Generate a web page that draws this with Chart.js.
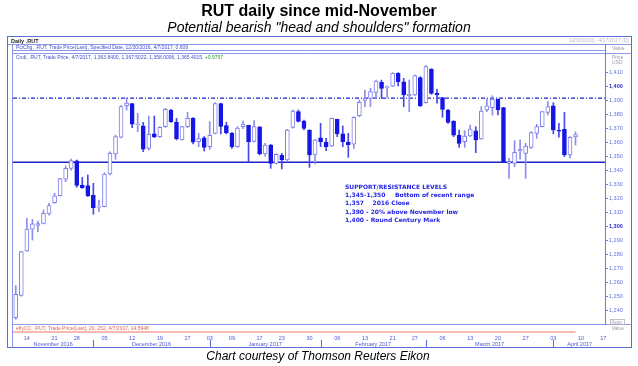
<!DOCTYPE html>
<html>
<head>
<meta charset="utf-8">
<script src="https://cdn.jsdelivr.net/npm/chart.js@4.4.0/dist/chart.umd.min.js"></script>
<style>
  html, body { margin: 0; padding: 0; background: #fff; }
  #wrap { width: 638px; height: 366px; }
</style>
</head>
<body>
<div id="wrap"><canvas id="rutChart" width="638" height="366"></canvas></div>
<script>
// trading days on the x axis (last five are empty future days)
const tradingDays = [
  '2016-11-10','2016-11-11','2016-11-14','2016-11-15','2016-11-16','2016-11-17','2016-11-18','2016-11-21','2016-11-22','2016-11-23','2016-11-25','2016-11-28','2016-11-29','2016-11-30',
  '2016-12-01','2016-12-02','2016-12-05','2016-12-06','2016-12-07','2016-12-08','2016-12-09','2016-12-12','2016-12-13','2016-12-14','2016-12-15','2016-12-16','2016-12-19','2016-12-20','2016-12-21','2016-12-22','2016-12-23','2016-12-27','2016-12-28','2016-12-29','2016-12-30',
  '2017-01-03','2017-01-04','2017-01-05','2017-01-06','2017-01-09','2017-01-10','2017-01-11','2017-01-12','2017-01-13','2017-01-17','2017-01-18','2017-01-19','2017-01-20','2017-01-23','2017-01-24','2017-01-25','2017-01-26','2017-01-27','2017-01-30','2017-01-31',
  '2017-02-01','2017-02-02','2017-02-03','2017-02-06','2017-02-07','2017-02-08','2017-02-09','2017-02-10','2017-02-13','2017-02-14','2017-02-15','2017-02-16','2017-02-17','2017-02-21','2017-02-22','2017-02-23','2017-02-24','2017-02-27','2017-02-28',
  '2017-03-01','2017-03-02','2017-03-03','2017-03-06','2017-03-07','2017-03-08','2017-03-09','2017-03-10','2017-03-13','2017-03-14','2017-03-15','2017-03-16','2017-03-17','2017-03-20','2017-03-21','2017-03-22','2017-03-23','2017-03-24','2017-03-27','2017-03-28','2017-03-29','2017-03-30','2017-03-31',
  '2017-04-03','2017-04-04','2017-04-05','2017-04-06','2017-04-07','2017-04-10','2017-04-11','2017-04-12','2017-04-13','2017-04-17'
];

const opens = [
  1234.7, 1250.6, 1282.3, 1297.8, 1300.6, 1302.0, 1308.7, 1316.8, 1321.8, 1333.5,
  1341.3, 1346.6, 1329.4, 1329.0, 1322.1, 1313.5, 1314.0, 1337.3, 1351.6, 1363.5,
  1386.1, 1387.5, 1372.6, 1371.6, 1355.6, 1365.9, 1363.9, 1371.1, 1383.0, 1374.4,
  1361.6, 1371.1, 1377.0, 1360.4, 1363.2, 1356.8, 1366.3, 1387.5, 1371.8, 1366.3,
  1356.8, 1371.1, 1372.0, 1360.6, 1370.9, 1351.6, 1358.0, 1344.9, 1350.6, 1347.3,
  1370.6, 1381.8, 1375.1, 1368.7, 1350.9, 1363.2, 1360.1, 1357.3, 1376.3, 1365.9,
  1360.1, 1358.5, 1379.0, 1389.8, 1391.3, 1395.6, 1402.8, 1399.0, 1400.1, 1409.2,
  1403.2, 1393.2, 1393.7, 1406.1, 1388.2, 1412.3, 1394.9, 1391.8, 1383.0, 1375.1,
  1365.1, 1360.4, 1364.4, 1368.2, 1362.3, 1383.0, 1384.7, 1390.6, 1384.7, 1344.9,
  1344.9, 1353.9, 1352.0, 1356.3, 1366.3, 1371.1, 1381.3, 1385.9, 1368.5, 1369.2,
  1350.9, 1363.84
];
const highs = [
  1257.5, 1282.0, 1305.6, 1304.9, 1303.7, 1311.6, 1316.3, 1323.5, 1334.2, 1343.0,
  1348.0, 1347.3, 1334.9, 1336.6, 1330.6, 1318.7, 1338.2, 1353.2, 1365.1, 1386.1,
  1391.8, 1387.8, 1380.6, 1374.2, 1378.7, 1378.7, 1371.1, 1384.2, 1383.5, 1377.0,
  1371.3, 1381.3, 1377.5, 1366.3, 1364.0, 1374.7, 1388.2, 1387.8, 1374.2, 1367.0,
  1371.1, 1375.1, 1372.2, 1375.4, 1371.1, 1359.2, 1358.5, 1351.8, 1352.0, 1369.2,
  1383.0, 1383.0, 1375.8, 1368.9, 1362.0, 1373.5, 1362.8, 1377.2, 1376.5, 1371.6,
  1366.3, 1378.2, 1390.1, 1397.3, 1398.5, 1404.4, 1404.4, 1400.1, 1409.7, 1409.7,
  1405.6, 1404.4, 1408.0, 1406.8, 1414.7, 1412.5, 1397.8, 1392.0, 1383.5, 1375.3,
  1368.7, 1368.2, 1372.3, 1371.1, 1385.4, 1390.9, 1393.2, 1390.8, 1384.9, 1348.5,
  1361.1, 1361.6, 1359.2, 1367.5, 1372.8, 1382.0, 1389.0, 1388.2, 1373.5, 1381.3,
  1364.0, 1367.50
];
const lows = [
  1233.5, 1250.0, 1282.0, 1290.1, 1296.1, 1301.6, 1307.8, 1316.3, 1321.6, 1331.8,
  1340.0, 1327.8, 1327.0, 1321.1, 1308.5, 1310.4, 1313.8, 1336.6, 1347.8, 1363.0,
  1383.0, 1370.4, 1367.5, 1353.2, 1354.4, 1363.2, 1363.4, 1370.6, 1374.2, 1361.6,
  1361.4, 1370.4, 1358.7, 1356.8, 1353.7, 1354.9, 1365.9, 1365.9, 1365.9, 1355.6,
  1356.3, 1369.7, 1346.1, 1360.1, 1350.9, 1350.1, 1341.3, 1344.4, 1340.9, 1346.8,
  1370.1, 1374.4, 1368.7, 1342.0, 1344.4, 1356.8, 1354.0, 1356.8, 1363.9, 1356.8,
  1349.2, 1355.6, 1378.2, 1385.4, 1385.4, 1391.3, 1391.3, 1392.0, 1399.7, 1400.1,
  1385.4, 1381.8, 1393.2, 1385.4, 1387.8, 1394.2, 1387.8, 1377.8, 1373.5, 1363.9,
  1356.3, 1356.3, 1364.0, 1352.5, 1362.0, 1381.8, 1379.4, 1379.4, 1345.4, 1334.2,
  1342.5, 1347.8, 1334.2, 1355.6, 1362.8, 1370.9, 1379.4, 1365.9, 1363.5, 1349.7,
  1348.5, 1358.01
];
const closes = [
  1251.3, 1281.8, 1298.0, 1301.6, 1301.8, 1309.2, 1314.7, 1321.6, 1334.0, 1341.3,
  1346.8, 1329.2, 1327.5, 1321.6, 1313.3, 1314.4, 1337.3, 1352.0, 1364.0, 1385.4,
  1388.0, 1372.8, 1373.2, 1355.1, 1365.6, 1363.7, 1370.6, 1383.5, 1374.7, 1362.3,
  1371.1, 1377.0, 1360.1, 1362.5, 1356.3, 1364.9, 1387.5, 1371.3, 1366.6, 1356.8,
  1370.1, 1373.0, 1360.4, 1371.1, 1351.6, 1358.0, 1344.9, 1351.3, 1347.3, 1368.7,
  1382.3, 1374.9, 1369.9, 1350.9, 1361.6, 1360.4, 1356.8, 1377.0, 1365.9, 1360.4,
  1358.2, 1377.8, 1388.5, 1391.3, 1396.1, 1403.7, 1398.5, 1399.7, 1409.2, 1403.2,
  1393.7, 1394.2, 1407.5, 1386.1, 1414.0, 1394.9, 1393.7, 1383.5, 1374.2, 1365.1,
  1359.2, 1364.4, 1369.4, 1361.6, 1382.3, 1385.9, 1390.6, 1383.0, 1345.6, 1346.1,
  1352.7, 1354.9, 1357.3, 1366.8, 1371.1, 1381.8, 1385.4, 1368.7, 1367.8, 1350.9,
  1363.5, 1365.40
];

const yTicks = [1240, 1250, 1260, 1270, 1280, 1290, 1300, 1310, 1320, 1330, 1340, 1350, 1360, 1370, 1380, 1390, 1400, 1410];
const tickDates = [
  '2016-11-14','2016-11-21','2016-11-28','2016-12-05','2016-12-12','2016-12-19','2016-12-27',
  '2017-01-03','2017-01-09','2017-01-17','2017-01-23','2017-01-30','2017-02-06','2017-02-13',
  '2017-02-21','2017-02-27','2017-03-06','2017-03-13','2017-03-20','2017-03-27','2017-04-03',
  '2017-04-10','2017-04-17'
];
const monthNames = ['November 2016', 'December 2016', 'January 2017', 'February 2017', 'March 2017', 'April 2017'];
const monthStarts = ['2016-12-01', '2017-01-03', '2017-02-01', '2017-03-01', '2017-04-03'];

const supportLevel = 1345.7;
const resistanceLevel = 1391.5;

const titleText = 'RUT daily since mid-November';
const subtitleText = 'Potential bearish "head and shoulders" formation';
const footerText = 'Chart courtesy of Thomson Reuters Eikon';
const levelsTitle = 'SUPPORT/RESISTANCE LEVELS';
const levelsRows = [
  ['1,345-1,350', 'Bottom of recent range'],
  ['1,357', '2016 Close'],
  ['1,390 - 20% above November low', ''],
  ['1,400 - Round Century Mark', '']
];

const SMALL = '"Liberation Sans", Arial, sans-serif';
const BIG = '"Liberation Sans", Arial, sans-serif';
const VERD = '"DejaVu Sans", Verdana, sans-serif';
const axisBlue = '#4b5ad6';
const frameBlue = '#5a6fd6';
const lineBlue = '#8a97ea';

const isUp = closes.map((c, i) => c >= opens[i]);

const eikonFrame = {
  id: 'eikonFrame',
  beforeDatasetsDraw(chart) {
    const { ctx, chartArea: a, scales: { y } } = chart;
    ctx.save();
    // support (solid) and resistance (dash-dot) levels
    ctx.strokeStyle = '#1f22d0';
    ctx.lineWidth = 1.5;
    const ys = y.getPixelForValue(supportLevel);
    ctx.beginPath(); ctx.moveTo(a.left, ys); ctx.lineTo(a.right, ys); ctx.stroke();
    ctx.setLineDash([4, 2, 1, 2]);
    ctx.lineWidth = 1.3;
    const yr = y.getPixelForValue(resistanceLevel);
    ctx.beginPath(); ctx.moveTo(a.left, yr); ctx.lineTo(a.right, yr); ctx.stroke();
    ctx.restore();
  },
  afterDraw(chart) {
    const { ctx, chartArea: a, scales: { x } } = chart;
    ctx.save();

    // titles
    ctx.fillStyle = '#000';
    ctx.textAlign = 'center';
    ctx.textBaseline = 'middle';
    ctx.font = 'bold 16px ' + BIG;
    ctx.fillText(titleText, 319, 12);
    ctx.font = 'italic 14px ' + BIG;
    ctx.fillText(subtitleText, 319, 28);
    ctx.font = 'italic 12px ' + BIG;
    ctx.fillText(footerText, 318, 357);

    // outer frame
    ctx.strokeStyle = frameBlue;
    ctx.lineWidth = 1;
    ctx.strokeRect(7.5, 36.5, 624, 311);

    // panel lines
    ctx.strokeStyle = lineBlue;
    const hl = (y0, x0, x1) => { ctx.beginPath(); ctx.moveTo(x0, y0); ctx.lineTo(x1, y0); ctx.stroke(); };
    hl(44.5, 8, 631);
    hl(50.5, a.left, a.right);
    hl(53.5, a.left, 631);
    hl(324.5, a.left, 631);
    // left border and y-axis line
    ctx.beginPath(); ctx.moveTo(a.left - 0.5, 44.5); ctx.lineTo(a.left - 0.5, 347.5); ctx.stroke();
    ctx.strokeStyle = '#6d7be4';
    ctx.beginPath(); ctx.moveTo(a.right - 0.5, 44.5); ctx.lineTo(a.right - 0.5, 325); ctx.stroke();

    // header texts
    ctx.textAlign = 'left';
    ctx.fillStyle = '#222';
    ctx.font = 'bold 5.5px ' + SMALL;
    ctx.fillText('Daily .RUT', 11, 41);
    ctx.fillStyle = '#3f4fcf';
    ctx.font = '5px ' + SMALL;
    ctx.fillText('PctChg, .RUT, Trade Price(Last), Specified Date, 12/30/2016, 4/7/2017, 0.609', 16, 48);
    const cndl = 'Cndl, .RUT, Trade Price, 4/7/2017, 1,363.8400, 1,367.5022, 1,358.0096, 1,365.4015, ';
    ctx.fillText(cndl, 16, 58);
    ctx.fillStyle = '#2f9a3a';
    ctx.fillText('+0.9757', 16 + ctx.measureText(cndl).width, 58);

    ctx.fillStyle = '#b8b8c8';
    ctx.textAlign = 'right';
    ctx.fillText('12/30/2016 - 4/17/2017 (D)', 629, 41);
    ctx.textAlign = 'left';
    ctx.fillStyle = '#9a9aa8';
    ctx.fillText('Value', 612, 49);
    ctx.fillText('Price', 612, 58);
    ctx.fillText('USD', 612, 63);
    ctx.strokeStyle = '#b0b0b8';
    ctx.lineWidth = 0.8;
    ctx.strokeRect(610.5, 319.5, 14, 5);
    ctx.fillText('Auto', 611.5, 322.3);
    ctx.fillText('Value', 611.5, 328.5);

    // indicator panel
    ctx.fillStyle = '#e2644e';
    ctx.fillText('effyCC, .RUT, Trade Price(Last), 20, 252, 4/7/2017, 14.5948', 16, 329);
    ctx.strokeStyle = '#f2a596';
    ctx.lineWidth = 1.5;
    const lastX = x.getPixelForValue(opens.length - 1);
    ctx.beginPath(); ctx.moveTo(a.left, 332); ctx.lineTo(lastX, 332); ctx.stroke();

    // month separators and month names
    const seps = [a.left].concat(monthStarts.map(d => x.getPixelForValue(tradingDays.indexOf(d))), [a.right]);
    ctx.strokeStyle = '#5a6ad6';
    ctx.lineWidth = 1;
    seps.slice(1, -1).forEach(px => {
      ctx.beginPath(); ctx.moveTo(Math.round(px) + 0.5, 340); ctx.lineTo(Math.round(px) + 0.5, 347); ctx.stroke();
    });
    ctx.fillStyle = axisBlue;
    ctx.textAlign = 'center';
    ctx.font = '5.5px ' + SMALL;
    monthNames.forEach((m, i) => ctx.fillText(m, (seps[i] + seps[i + 1]) / 2, 344));

    // support / resistance annotation
    ctx.textAlign = 'left';
    ctx.fillStyle = '#2424e8';
    ctx.font = 'bold 6px ' + VERD;
    ctx.fillText(levelsTitle, 345, 187.5);
    levelsRows.forEach((r, i) => {
      const ty = 195.8 + i * 8.1;
      ctx.fillText(r[0], 345, ty);
      if (r[1]) ctx.fillText(r[1], i === 0 ? 395 : 372.5, ty);
    });

    ctx.restore();
  }
};

new Chart(document.getElementById('rutChart'), {
  type: 'bar',
  data: {
    labels: tradingDays,
    datasets: [
      {
        label: 'Body',
        data: opens.map((o, i) => [o, closes[i]]),
        backgroundColor: isUp.map(u => u ? '#ffffff' : '#1515e6'),
        borderColor: isUp.map(u => u ? '#7f7fee' : '#1515e6'),
        borderWidth: 1,
        borderSkipped: false,
        barThickness: 4,
        grouped: false,
        order: 0
      },
      {
        label: 'Range',
        data: lows.map((l, i) => [l, highs[i]]),
        backgroundColor: isUp.map(u => u ? '#8d8def' : '#4848e8'),
        borderWidth: 0,
        barThickness: 1,
        grouped: false,
        order: 1
      }
    ]
  },
  options: {
    responsive: false,
    animation: false,
    devicePixelRatio: 1,
    layout: { padding: { left: 13, top: 54, right: 6, bottom: 18 } },
    plugins: {
      legend: { display: false },
      tooltip: { enabled: false },
      title: { display: false }
    },
    scales: {
      x: {
        type: 'category',
        offset: true,
        grid: { display: false, drawTicks: false },
        border: { display: false },
        afterBuildTicks: s => { s.ticks = s.ticks.filter(t => tickDates.includes(tradingDays[t.value])); },
        afterFit: s => { s.height = 15; },
        ticks: {
          autoSkip: false,
          maxRotation: 0,
          padding: 2,
          color: axisBlue,
          font: { family: SMALL, size: 5.5 },
          callback: v => tradingDays[v].slice(8)
        }
      },
      y: {
        position: 'right',
        min: 1223.7,
        max: 1423.0,
        grid: { drawOnChartArea: false, drawTicks: true, tickLength: 2, color: '#7080e0' },
        border: { display: false },
        afterBuildTicks: s => { s.ticks = yTicks.map(v => ({ value: v })); },
        afterFit: s => { s.width = 26; },
        ticks: {
          padding: 1,
          color: c => (c.tick && c.tick.value % 100 === 0) ? '#2a2ac8' : '#6470dc',
          font: c => ({ family: SMALL, size: 5.5, weight: (c.tick && c.tick.value % 100 === 0) ? 'bold' : 'normal' }),
          callback: v => v.toLocaleString('en-US')
        }
      }
    }
  },
  plugins: [eikonFrame]
});
</script>
</body>
</html>
